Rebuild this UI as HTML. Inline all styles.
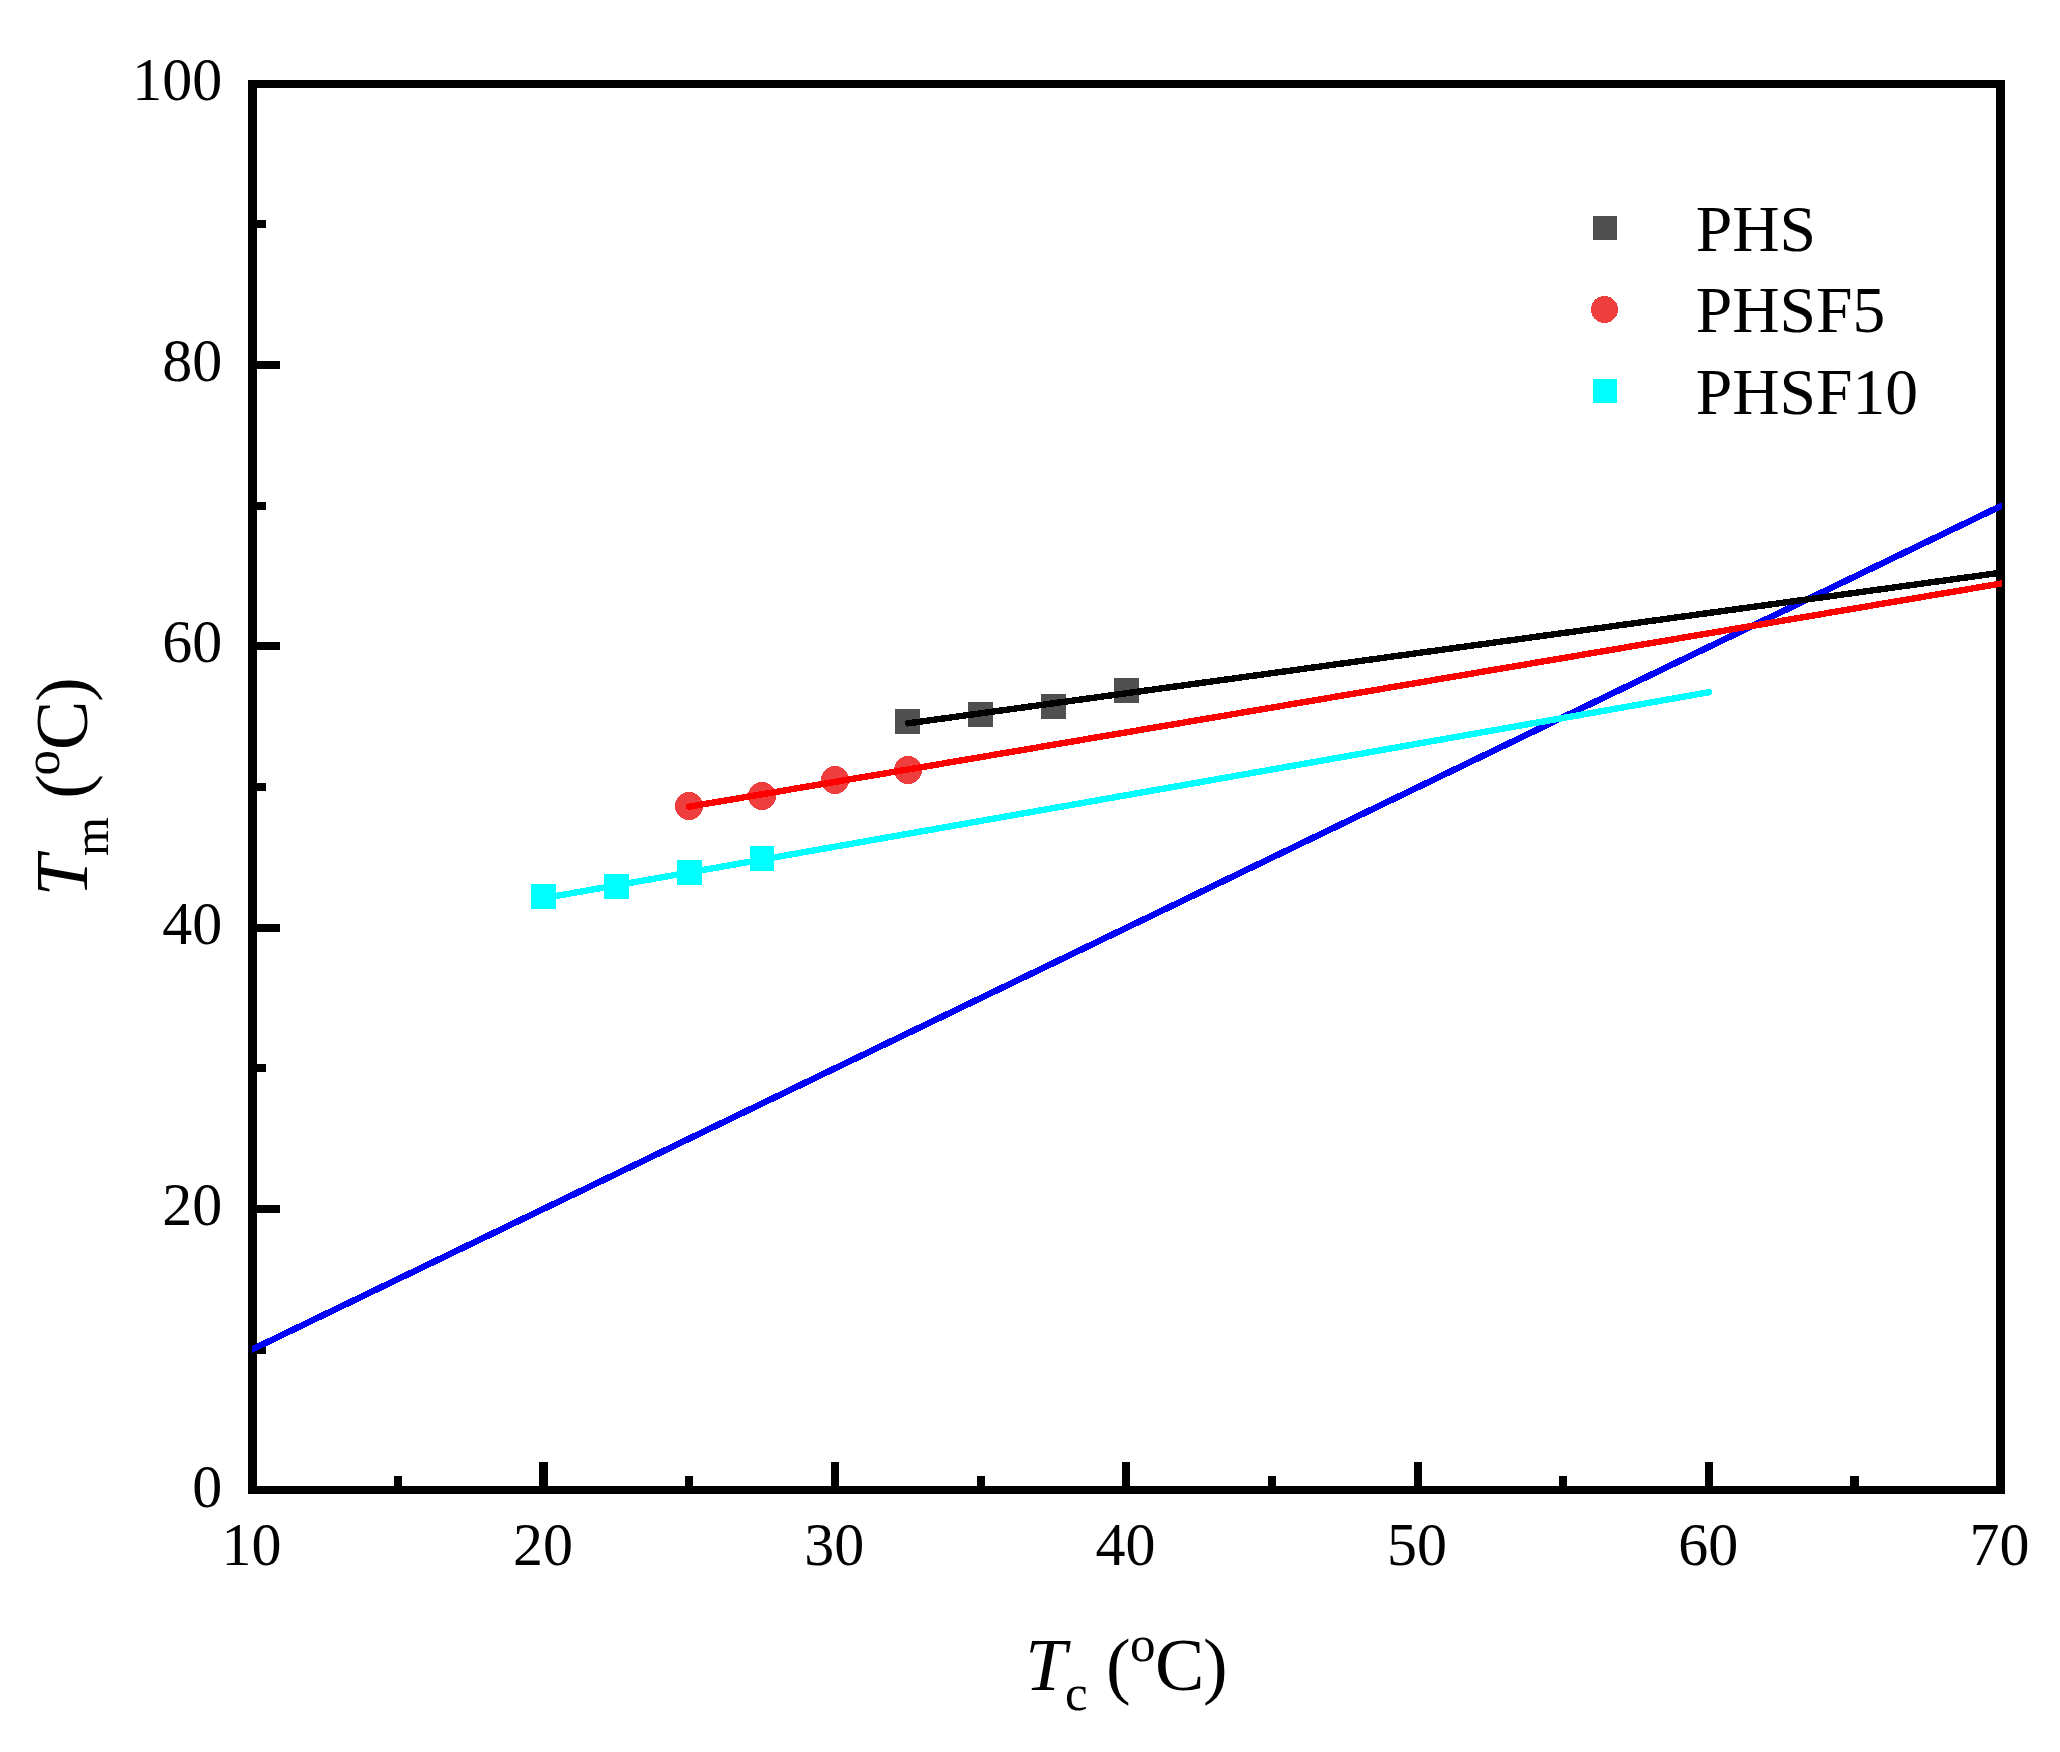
<!DOCTYPE html>
<html lang="en">
<head>
<meta charset="utf-8">
<title>Tm vs Tc</title>
<style>
  html, body { margin: 0; padding: 0; background: #ffffff; }
  body { width: 2060px; height: 1752px; overflow: hidden; }
  svg { display: block; }
  text { font-family: "Liberation Serif", "Times New Roman", Times, serif; fill: #000; }
  .tick { font-size: 60px; }
  .ttl { font-size: 74px; }
  .ss { font-size: 51px; }
  .leg { font-size: 65.6px; }
</style>
</head>
<body>
<svg width="2060" height="1752" viewBox="0 0 2060 1752">
  <defs>
    <clipPath id="plotclip"><rect x="252" y="84" width="1750" height="1406"/></clipPath>
  </defs>
  <rect x="0" y="0" width="2060" height="1752" fill="#ffffff"/>

  <!-- data markers (drawn beneath the fit lines) -->
  <g fill="#505050" shape-rendering="crispEdges">
    <rect x="895" y="709" width="25" height="25"/>
    <rect x="968" y="702" width="25" height="25"/>
    <rect x="1041" y="694" width="25" height="25"/>
    <rect x="1114" y="678" width="25" height="25"/>
  </g>
  <g fill="#ee3e3e" shape-rendering="crispEdges">
    <circle cx="689" cy="806" r="14"/>
    <circle cx="762" cy="796" r="14"/>
    <circle cx="835" cy="780" r="14"/>
    <circle cx="908" cy="770" r="14"/>
  </g>
  <g fill="#00ffff" shape-rendering="crispEdges">
    <rect x="531" y="884" width="25" height="25"/>
    <rect x="604" y="874" width="25" height="25"/>
    <rect x="677" y="860" width="25" height="25"/>
    <rect x="750" y="846" width="24" height="25"/>
  </g>

  <!-- axes frame and ticks -->
  <g fill="#000" shape-rendering="crispEdges">
    <rect x="248" y="80" width="1757" height="8"/>
    <rect x="248" y="1486" width="1757" height="8"/>
    <rect x="248" y="80" width="9" height="1414"/>
    <rect x="1996" y="80" width="9" height="1414"/>
    <rect x="248" y="361" width="32" height="8"/>
    <rect x="248" y="642" width="32" height="8"/>
    <rect x="248" y="924" width="32" height="8"/>
    <rect x="248" y="1205" width="32" height="8"/>
    <rect x="248" y="220" width="18" height="8"/>
    <rect x="248" y="502" width="18" height="8"/>
    <rect x="248" y="783" width="18" height="8"/>
    <rect x="248" y="1064" width="18" height="8"/>
    <rect x="248" y="1346" width="18" height="8"/>
    <rect x="539" y="1462" width="9" height="30"/>
    <rect x="831" y="1462" width="8" height="30"/>
    <rect x="1122" y="1462" width="8" height="30"/>
    <rect x="1414" y="1462" width="8" height="30"/>
    <rect x="1705" y="1462" width="8" height="30"/>
    <rect x="394" y="1476" width="8" height="16"/>
    <rect x="685" y="1476" width="8" height="16"/>
    <rect x="977" y="1476" width="8" height="16"/>
    <rect x="1268" y="1476" width="8" height="16"/>
    <rect x="1559" y="1476" width="8" height="16"/>
    <rect x="1850" y="1476" width="9" height="16"/>
  </g>

  <!-- fitted lines -->
  <g fill="none" stroke-width="6.4" stroke-linecap="round" shape-rendering="crispEdges" clip-path="url(#plotclip)">
    <line x1="240.00" y1="1355.29" x2="2000.50" y2="506.24" stroke="#0000ff"/>
    <line x1="908.00" y1="723.33" x2="2000.50" y2="572.76" stroke="#000000"/>
    <line x1="689.00" y1="806.69" x2="2000.50" y2="583.66" stroke="#ff0000"/>
    <line x1="543.80" y1="898.16" x2="1709.00" y2="692.20" stroke="#00ffff"/>
  </g>
  <!-- y tick labels -->
  <g class="tick" text-anchor="end">
    <text transform="translate(222.3,100.3) scale(1,1.025)">100</text>
    <text transform="translate(222.3,380.8) scale(1,1.025)">80</text>
    <text transform="translate(222.3,661.8) scale(1,1.025)">60</text>
    <text transform="translate(222.3,944.2) scale(1,1.025)">40</text>
    <text transform="translate(222.3,1225.4) scale(1,1.025)">20</text>
    <text transform="translate(222.3,1507.0) scale(1,1.025)">0</text>
  </g>
  <!-- x tick labels -->
  <g class="tick" text-anchor="middle">
    <text transform="translate(251.6,1565.3) scale(1,1.025)">10</text>
    <text transform="translate(542.9,1565.3) scale(1,1.025)">20</text>
    <text transform="translate(834.3,1565.3) scale(1,1.025)">30</text>
    <text transform="translate(1125.6,1565.3) scale(1,1.025)">40</text>
    <text transform="translate(1416.9,1565.3) scale(1,1.025)">50</text>
    <text transform="translate(1708.3,1565.3) scale(1,1.025)">60</text>
    <text transform="translate(1999.6,1565.3) scale(1,1.025)">70</text>
  </g>
  <!-- axis titles -->
  <text class="ttl" x="1025.3" y="1690"><tspan font-style="italic">T</tspan><tspan class="ss" dx="-1.35" dy="20.4">c</tspan><tspan dx="-0.25" dy="-20.4"> (</tspan><tspan class="ss" dx="-0.6" dy="-29.1">o</tspan><tspan dx="-0.6" dy="29.1">C</tspan><tspan dx="-1.4">)</tspan></text>
  <text class="ttl" transform="translate(86.7,896.3) rotate(-90)" x="0" y="0"><tspan font-style="italic">T</tspan><tspan class="ss" style="font-size:50px" dx="-0.9" dy="21">m</tspan><tspan dx="-0.2" dy="-21"> (</tspan><tspan class="ss" dx="-1.3" dy="-27.4">o</tspan><tspan dx="0" dy="27.4">C</tspan><tspan dx="-1.4">)</tspan></text>

  <!-- legend -->
  <rect x="1593" y="216" width="24" height="24" fill="#505050" shape-rendering="crispEdges"/>
  <circle cx="1604.5" cy="309.5" r="13.5" fill="#ee3e3e" shape-rendering="crispEdges"/>
  <rect x="1593" y="379" width="24" height="24" fill="#00ffff" shape-rendering="crispEdges"/>
  <g class="leg">
    <text x="1695.7" y="251">PHS</text>
    <text x="1695.7" y="331.7">PHSF5</text>
    <text x="1695.7" y="414.1">PHSF10</text>
  </g>
</svg>
</body>
</html>
